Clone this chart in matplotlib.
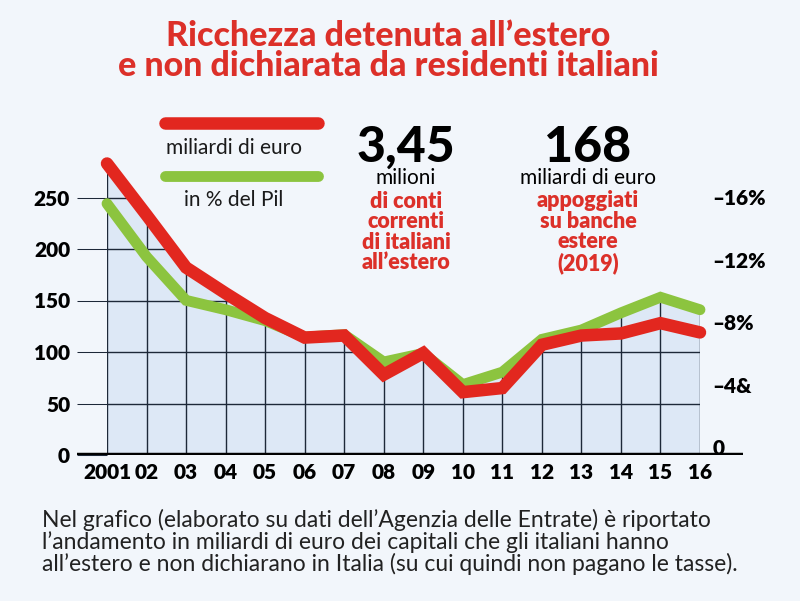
# -*- coding: utf-8 -*-

import numpy as np
import matplotlib
matplotlib.use("Agg")
import matplotlib.pyplot as plt
from matplotlib.patches import Polygon

# data
years = ["2001", "02", "03", "04", "05", "06", "07", "08", "09", "10",
         "11", "12", "13", "14", "15", "16"]
miliardi = [283, 233, 182, 157, 133, 114, 116, 78, 99, 61, 65, 107, 116, 118, 128, 119]
pct_pil = [15.6, 12.2, 9.4, 8.8, 8.1, 7.05, 7.2, 5.45, 6.0, 4.0, 4.8, 6.9, 7.5, 8.6, 9.6, 8.8]

left_ticks = [0, 50, 100, 150, 200, 250]
right_ticks = [0, 4, 8, 12, 16]
right_labels = ["0", "\u20134&", "\u20138%", "\u201312%", "\u201316%"]

RED = "#e2271f"
TXT_RED = "#dc3029"
GREEN = "#8cc43f"
BG = "#f2f6fb"
FILL = "#dde8f6"
GRID = "#1d2838"
FONT = ["Lato", "DejaVu Sans"]

W, H = 800, 601
fig = plt.figure(figsize=(W / 100, H / 100), dpi=100)
fig.patch.set_facecolor(BG)


def fx(px):
    return px / W


def fy(py):
    return 1 - py / H


# axes: x from px 77 to 743, value 0 at py 455, top at py 100
ax = fig.add_axes([fx(77), fy(455), (743 - 77) / W, (455 - 100) / H])
ax.set_facecolor("none")
x = np.arange(len(years))
ax.set_xlim(-30 / 39.533, 15 + 43 / 39.533)
ax.set_ylim(0, 355 / 1.03)

# right scale (% del Pil), 0 sits a little above the baseline like in the original
ax2 = ax.twinx()
ax2.set_ylim(-8 / 15.6, 347 / 15.6)

for a in (ax, ax2):
    for s in a.spines.values():
        s.set_visible(False)

# envelope of both lines in left-axis units (for the shaded area and clipped grid)
pix = ax2.transData.transform(np.column_stack([x, pct_pil]))
green_left = ax.transData.inverted().transform(pix)[:, 1]
xs = np.linspace(0, len(years) - 1, 600)
env = np.maximum(np.interp(xs, x, miliardi), np.interp(xs, x, green_left))
poly_pts = np.vstack([[0, 0], np.column_stack([xs, env]), [xs[-1], 0]])
area = Polygon(poly_pts, closed=True, facecolor=FILL, edgecolor="none", zorder=1)
ax.add_patch(area)

clip = Polygon(poly_pts, closed=True, transform=ax.transData, facecolor="none")
for xi in x:
    ln, = ax.plot([xi, xi], [0, 400], color=GRID, lw=1.0, zorder=2)
    ln.set_clip_path(clip)
for yv in left_ticks[1:]:
    ln, = ax.plot([0, 20], [yv, yv], color=GRID, lw=1.0, zorder=2)
    ln.set_clip_path(clip)

ax.axhline(0, color="black", lw=3.2, zorder=5)

# green drawn in ax but on the % scale, so it stays under the red line
ax.plot(x, pct_pil, color=GREEN, lw=7.8, solid_capstyle="round",
        solid_joinstyle="miter", zorder=3, transform=ax2.transData)
ax.plot(x, miliardi, color=RED, lw=9, solid_capstyle="round",
        solid_joinstyle="miter", zorder=4)
ax.set_xlim(-30 / 39.533, 15 + 43 / 39.533)
ax.set_ylim(0, 355 / 1.03)

# ticks
ax.set_yticks(left_ticks)
ax.set_yticklabels([str(t) for t in left_ticks])
ax.tick_params(axis="y", direction="in", length=21.6, width=0.75, color=GRID,
               pad=5, labelsize=15)
ax.set_xticks(x)
ax.set_xticklabels(years)
ax.tick_params(axis="x", length=0, pad=6, labelsize=15)
for lab in ax.get_yticklabels() + ax.get_xticklabels():
    lab.set_fontfamily(FONT)
    lab.set_fontweight("heavy")

ax2.set_yticks(right_ticks)
ax2.set_yticklabels(right_labels)
ax2.tick_params(axis="y", length=0, pad=-22, labelsize=15)
for lab in ax2.get_yticklabels():
    lab.set_fontfamily(FONT)
    lab.set_fontweight("heavy")

# title
fig.text(fx(388), fy(36), "Ricchezza detenuta all\u2019estero", ha="center", va="center",
         fontsize=24.5, color=TXT_RED, fontweight="black", family=FONT)
fig.text(fx(388), fy(66), "e non dichiarata da residenti italiani", ha="center", va="center",
         fontsize=24.5, color=TXT_RED, fontweight="black", family=FONT)

# legend
fig.add_artist(plt.Line2D([fx(165), fx(318)], [fy(123), fy(123)], color=RED, lw=9,
                          solid_capstyle="round"))
fig.text(fx(234), fy(148), "miliardi di euro", ha="center", va="center", fontsize=15,
         color="#1a1a1a", family=FONT)
fig.add_artist(plt.Line2D([fx(165), fx(318)], [fy(176), fy(176)], color=GREEN, lw=7.8,
                          solid_capstyle="round"))
fig.text(fx(234), fy(200), "in % del Pil", ha="center", va="center", fontsize=15,
         color="#1a1a1a", family=FONT)

# callouts
fig.text(fx(406), fy(147), "3,45", ha="center", va="center", fontsize=36,
         fontweight="black", color="black", family=FONT)
fig.text(fx(406), fy(178), "milioni", ha="center", va="center", fontsize=15,
         color="black", family=FONT)
fig.text(fx(406), fy(232), "di conti\ncorrenti\ndi italiani\nall\u2019estero", ha="center",
         va="center", fontsize=15.5, fontweight="heavy", color=TXT_RED, family=FONT,
         linespacing=0.98)

fig.text(fx(588), fy(147), "168", ha="center", va="center", fontsize=36,
         fontweight="black", color="black", family=FONT)
fig.text(fx(588), fy(178), "miliardi di euro", ha="center", va="center", fontsize=15,
         color="black", family=FONT)
fig.text(fx(588), fy(232), "appoggiati\nsu banche\nestere\n(2019)", ha="center",
         va="center", fontsize=15.5, fontweight="heavy", color=TXT_RED, family=FONT,
         linespacing=0.98)

# note
note = ("Nel grafico (elaborato su dati dell\u2019Agenzia delle Entrate) \u00e8 riportato\n"
        "l\u2019andamento in miliardi di euro dei capitali che gli italiani hanno\n"
        "all\u2019estero e non dichiarano in Italia (su cui quindi non pagano le tasse).")
fig.text(fx(42), fy(542), note, ha="left", va="center", fontsize=16.5, color="#222222",
         family=FONT, linespacing=1.0)

fig.savefig("out.png", dpi=100, facecolor=BG)
